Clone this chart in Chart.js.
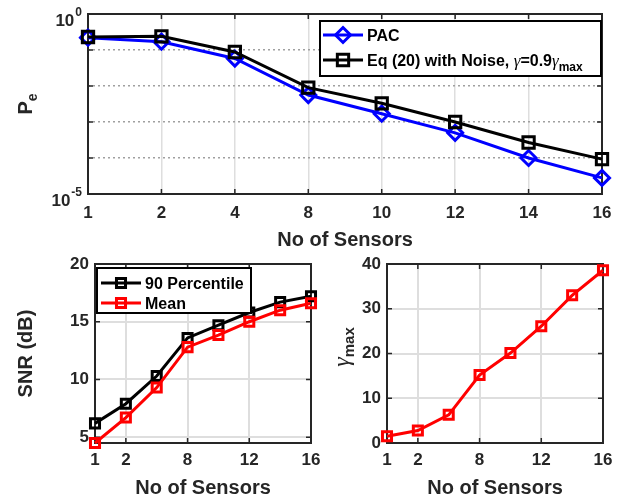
<!DOCTYPE html>
<html>
<head>
<meta charset="utf-8">
<script src="https://cdn.jsdelivr.net/npm/chart.js@4.4.1/dist/chart.umd.min.js"></script>
<style>
  html, body { margin: 0; padding: 0; background: #fff; }
  #wrap { position: relative; width: 632px; height: 498px; }
  #wrap canvas { position: absolute; left: 0; top: 0; }
</style>
</head>
<body>
<div id="wrap">
  <canvas id="peChart" width="632" height="498"></canvas>
  <canvas id="snrChart" width="632" height="498"></canvas>
  <canvas id="gammaChart" width="632" height="498"></canvas>
</div>
<script>
// 데이터
const sensors = ['1', '2', '4', '8', '10', '12', '14', '16'];
const shownSensorTicks = ['1', '2', '8', '12', '16'];

const pacPe = [0.22, 0.17, 0.058, 0.0056, 0.0017, 0.0005, 0.0001, 0.000028];
const eqPe = [0.23, 0.24, 0.088, 0.009, 0.0033, 0.001, 0.00027, 0.000093];
const peDecades = [1e-5, 1e-4, 1e-3, 1e-2, 1e-1, 1];
const peLabeled = [1e-5, 1];
const peExponents = ['-5', '0'];

const snr90 = [6.2, 7.9, 10.3, 13.6, 14.7, 15.8, 16.7, 17.2];
const snrMean = [4.5, 6.7, 9.3, 12.8, 13.85, 15.0, 16.0, 16.6];
const snrTicks = [5, 10, 15, 20];

const gammaMax = [1.5, 2.8, 6.3, 15.2, 20.1, 26.1, 33.0, 38.6];
const gammaTicks = [0, 10, 20, 30, 40];

const FONT = "'Liberation Sans', Arial, Helvetica, sans-serif";
const GREEK = "'Liberation Serif', 'DejaVu Serif', serif";
const AXIS = '#262626';

// 여러 글꼴이 섞인 텍스트 (첨자 포함)
function drawRuns(ctx, runs, x, y, align) {
  let w = 0;
  runs.forEach((r) => {
    ctx.font = r.font;
    w += ctx.measureText(r.text).width;
  });
  let cx = align === 'center' ? x - w / 2 : align === 'right' ? x - w : x;
  ctx.textAlign = 'left';
  ctx.textBaseline = 'alphabetic';
  runs.forEach((r) => {
    ctx.font = r.font;
    ctx.fillText(r.text, cx, y + (r.dy || 0));
    cx += ctx.measureText(r.text).width;
  });
}

function drawMarker(ctx, style, x, y, r) {
  ctx.beginPath();
  if (style === 'rectRot') {
    ctx.moveTo(x, y - r);
    ctx.lineTo(x + r, y);
    ctx.lineTo(x, y + r);
    ctx.lineTo(x - r, y);
    ctx.closePath();
  } else {
    const h = r * Math.SQRT1_2;
    ctx.rect(x - h, y - h, 2 * h, 2 * h);
  }
  ctx.stroke();
}

// MATLAB 스타일 박스 + 안쪽 눈금
const matBox = {
  id: 'matBox',
  beforeDatasetsDraw(chart) {
    const { ctx, chartArea: a, scales } = chart;
    ctx.save();
    ctx.strokeStyle = AXIS;
    ctx.lineWidth = 1.5;
    ctx.beginPath();
    scales.x.ticks.forEach((t, i) => {
      const px = scales.x.getPixelForTick(i);
      ctx.moveTo(px, a.bottom);
      ctx.lineTo(px, a.bottom - 5);
      ctx.moveTo(px, a.top);
      ctx.lineTo(px, a.top + 5);
    });
    scales.y.ticks.forEach((t) => {
      const py = scales.y.getPixelForValue(t.value);
      ctx.moveTo(a.left, py);
      ctx.lineTo(a.left + 5, py);
      ctx.moveTo(a.right, py);
      ctx.lineTo(a.right - 5, py);
    });
    ctx.stroke();
    ctx.lineWidth = 2;
    ctx.strokeRect(a.left, a.top, a.right - a.left, a.bottom - a.top);
    ctx.restore();
  },
};

// 범례 (선 + 마커 + 첨자 텍스트)
const matLegend = {
  id: 'matLegend',
  afterDraw(chart, args, opts) {
    if (!opts.rows) return;
    const { ctx } = chart;
    const b = opts.box;
    ctx.save();
    ctx.fillStyle = '#fff';
    ctx.fillRect(b.x, b.y, b.w, b.h);
    ctx.strokeStyle = '#000';
    ctx.lineWidth = 2;
    ctx.strokeRect(b.x, b.y, b.w, b.h);
    opts.rows.forEach((row, i) => {
      const ds = chart.data.datasets[row.dataset];
      const y = b.y + b.first + i * b.gap;
      ctx.strokeStyle = ds.borderColor;
      ctx.lineWidth = ds.borderWidth;
      ctx.beginPath();
      ctx.moveTo(b.x + b.lineFrom, y);
      ctx.lineTo(b.x + b.lineTo, y);
      ctx.stroke();
      ctx.lineWidth = ds.pointBorderWidth;
      drawMarker(ctx, ds.pointStyle, b.x + (b.lineFrom + b.lineTo) / 2, y, ds.pointRadius);
      ctx.fillStyle = '#000';
      drawRuns(ctx, row.runs, b.x + b.textX, y + 6, 'left');
    });
    ctx.restore();
  },
};

// 회전된 축 제목 / 로그 눈금 라벨
const matText = {
  id: 'matText',
  afterDraw(chart, args, opts) {
    const { ctx, scales } = chart;
    ctx.save();
    ctx.fillStyle = AXIS;
    if (opts.yTitle) {
      ctx.translate(opts.yTitle.x, opts.yTitle.y);
      ctx.rotate(-Math.PI / 2);
      drawRuns(ctx, opts.yTitle.runs, 0, 0, 'center');
      ctx.setTransform(1, 0, 0, 1, 0, 0);
    }
    if (opts.logLabels) {
      peLabeled.forEach((v, i) => {
        const py = scales.y.getPixelForValue(v);
        ctx.font = `bold 12px ${FONT}`;
        const we = ctx.measureText(peExponents[i]).width;
        const right = 82;
        drawRuns(ctx, [{ text: peExponents[i], font: `bold 12px ${FONT}` }], right - we, py + 2, 'left');
        drawRuns(ctx, [{ text: '10', font: `bold 17px ${FONT}` }], right - we - 1, py + 11.5, 'right');
      });
    }
    ctx.restore();
  },
};

function sensorAxis(showAll, heightFit, tickPad) {
  return {
    type: 'category',
    offset: false,
    afterBuildTicks: (scale) => {
      if (!showAll) {
        scale.ticks = scale.ticks.filter((t) => shownSensorTicks.includes(sensors[t.value]));
      }
    },
    afterFit: (scale) => {
      scale.height = heightFit;
    },
    grid: { color: '#dedede', lineWidth: showAll ? 1.5 : 2, drawTicks: false },
    border: { display: false },
    ticks: {
      autoSkip: false,
      maxRotation: 0,
      padding: tickPad,
      color: AXIS,
      font: { family: FONT, size: 17, weight: 'bold' },
    },
    title: {
      display: true,
      text: 'No of Sensors',
      color: AXIS,
      padding: { top: 0, bottom: 0 },
      font: { family: FONT, size: 20, weight: 'bold', lineHeight: 1 },
    },
  };
}

function lineSet(label, data, color, style, radius, order) {
  return {
    label,
    data,
    borderColor: color,
    backgroundColor: 'rgba(0,0,0,0)',
    borderWidth: 3,
    pointStyle: style,
    pointRadius: radius,
    pointHoverRadius: radius,
    pointBorderWidth: 3,
    pointBorderColor: color,
    pointBackgroundColor: 'rgba(0,0,0,0)',
    tension: 0,
    clip: false,
    order,
  };
}

const B16 = `bold 16px ${FONT}`;
const G16 = `italic 17px ${GREEK}`;

// 상단: Pe (로그 스케일)
new Chart(document.getElementById('peChart').getContext('2d'), {
  type: 'line',
  data: {
    labels: sensors,
    datasets: [
      lineSet('PAC', pacPe, '#0000ff', 'rectRot', 7.5, 1),
      lineSet('Eq (20) with Noise, γ=0.9γmax', eqPe, '#000000', 'rect', 8, 0),
    ],
  },
  options: {
    responsive: false,
    animation: false,
    events: [],
    layout: { padding: { left: 0, top: 14, right: 30, bottom: 248 } },
    plugins: {
      legend: { display: false },
      tooltip: { enabled: false },
      matLegend: {
        box: { x: 320, y: 21, w: 281, h: 55, first: 14, gap: 25, lineFrom: 3, lineTo: 43, textX: 47 },
        rows: [
          { dataset: 0, runs: [{ text: 'PAC', font: B16 }] },
          {
            dataset: 1,
            runs: [
              { text: 'Eq (20) with Noise, ', font: B16 },
              { text: 'γ', font: G16 },
              { text: '=0.9', font: B16 },
              { text: 'γ', font: G16 },
              { text: 'max', font: `bold 12px ${FONT}`, dy: 5 },
            ],
          },
        ],
      },
      matText: {
        logLabels: true,
        yTitle: {
          x: 32,
          y: 104,
          runs: [
            { text: 'P', font: `bold 20px ${FONT}` },
            { text: 'e', font: `bold 14px ${FONT}`, dy: 5 },
          ],
        },
      },
    },
    scales: {
      x: sensorAxis(true, 56, 9),
      y: {
        type: 'logarithmic',
        min: 1e-5,
        max: 1,
        afterBuildTicks: (scale) => {
          scale.ticks = peDecades.map((v) => ({ value: v }));
        },
        afterFit: (scale) => {
          scale.width = 88;
        },
        grid: { color: '#a0a0a0', lineWidth: 1.5, drawTicks: false },
        border: { display: false, dash: [2, 3] },
        ticks: { display: false },
      },
    },
  },
  plugins: [matBox, matText, matLegend],
});

// 하단 왼쪽: SNR
new Chart(document.getElementById('snrChart').getContext('2d'), {
  type: 'line',
  data: {
    labels: sensors,
    datasets: [
      lineSet('90 Percentile', snr90, '#000000', 'rect', 6.4, 1),
      lineSet('Mean', snrMean, '#ff0000', 'rect', 6.4, 0),
    ],
  },
  options: {
    responsive: false,
    animation: false,
    events: [],
    layout: { padding: { left: 16, top: 264, right: 321, bottom: 0 } },
    plugins: {
      legend: { display: false },
      tooltip: { enabled: false },
      matLegend: {
        box: { x: 97, y: 268, w: 154, h: 45, first: 15, gap: 20, lineFrom: 4, lineTo: 44, textX: 48 },
        rows: [
          { dataset: 0, runs: [{ text: '90 Percentile', font: B16 }] },
          { dataset: 1, runs: [{ text: 'Mean', font: B16 }] },
        ],
      },
    },
    scales: {
      x: sensorAxis(false, 55, 7),
      y: {
        min: 4.5,
        max: 20,
        afterBuildTicks: (scale) => {
          scale.ticks = snrTicks.map((v) => ({ value: v }));
        },
        afterFit: (scale) => {
          scale.width = 79;
        },
        grid: { color: '#dedede', lineWidth: 2, drawTicks: false },
        border: { display: false },
        ticks: {
          padding: 6,
          color: AXIS,
          font: { family: FONT, size: 17, weight: 'bold' },
        },
        title: {
          display: true,
          text: 'SNR (dB)',
          color: AXIS,
          padding: { top: 0, bottom: 0 },
          font: { family: FONT, size: 20, weight: 'bold', lineHeight: 1 },
        },
      },
    },
  },
  plugins: [matBox, matLegend],
});

// 하단 오른쪽: gamma max
new Chart(document.getElementById('gammaChart').getContext('2d'), {
  type: 'line',
  data: {
    labels: sensors,
    datasets: [lineSet('γmax', gammaMax, '#ff0000', 'rect', 6.4, 0)],
  },
  options: {
    responsive: false,
    animation: false,
    events: [],
    layout: { padding: { left: 330, top: 264, right: 29, bottom: 0 } },
    plugins: {
      legend: { display: false },
      tooltip: { enabled: false },
      matText: {
        yTitle: {
          x: 349,
          y: 347,
          runs: [
            { text: 'γ', font: `italic 24px ${GREEK}` },
            { text: 'max', font: `bold 15px ${FONT}`, dy: 5 },
          ],
        },
      },
    },
    scales: {
      x: sensorAxis(false, 55, 7),
      y: {
        min: 0,
        max: 40,
        afterBuildTicks: (scale) => {
          scale.ticks = gammaTicks.map((v) => ({ value: v }));
        },
        afterFit: (scale) => {
          scale.width = 57;
        },
        grid: { color: '#dedede', lineWidth: 2, drawTicks: false },
        border: { display: false },
        ticks: {
          padding: 6,
          color: AXIS,
          font: { family: FONT, size: 17, weight: 'bold' },
        },
      },
    },
  },
  plugins: [matBox, matText],
});
</script>
</body>
</html>
